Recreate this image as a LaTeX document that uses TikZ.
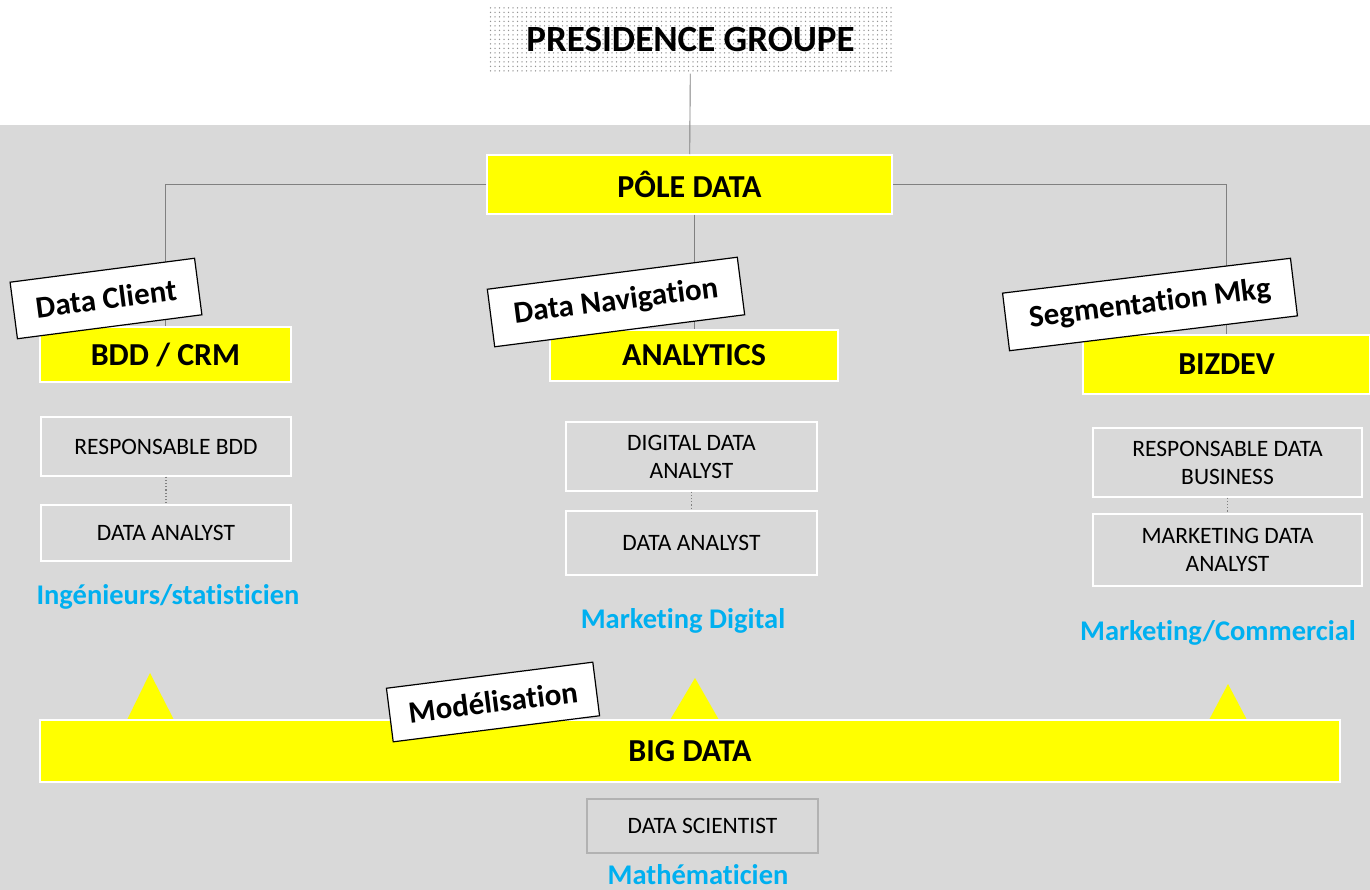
\documentclass[tikz,border=0pt]{standalone}
\usepackage{fontspec}
\setmainfont[Ligatures=NoCommon]{Carlito}
\usetikzlibrary{patterns.meta}
\definecolor{bggray}{HTML}{D9D9D9}
\definecolor{skillblue}{HTML}{00B0F0}
\definecolor{linegray}{HTML}{808080}
\definecolor{poleyellow}{HTML}{FFFF00}
\tikzset{
  pole/.style={draw=white, line width=1.5pt, fill=poleyellow, inner sep=0pt,
    font=\bfseries\fontsize{32}{34}\selectfont},
  role/.style={draw=white, line width=1.2pt, inner sep=0pt, align=center,
    font=\fontsize{23.5}{28}\selectfont},
  tag/.style={draw=black, fill=white, line width=1.2pt, inner sep=0pt,
    font=\bfseries\fontsize{31}{33}\selectfont},
  skill/.style={text=skillblue, inner sep=0pt, font=\bfseries\fontsize{28.5}{31}\selectfont},
  link/.style={draw=linegray, line width=0.9pt},
  dotlink/.style={draw=linegray, dotted, line width=1.2pt},
}
\begin{document}
\begin{tikzpicture}[x=1pt,y=-1pt]
  % frame
  \useasboundingbox (0,0) rectangle (1370,890);
  \fill[bggray] (0,125) rectangle (1370,890);
  % head
  \node[pattern={Dots[distance=4.5pt,radius=0.75pt]}, pattern color=gray!85,
    minimum width=403pt, minimum height=67pt, inner sep=0pt,
    font=\bfseries\fontsize{37}{40}\selectfont] (presidence) at (690.5,40) {PRESIDENCE GROUPE};
  \node[pole, minimum width=405pt, minimum height=59pt] (poledata) at (689.5,184.5) {PÔLE DATA};
  % poles
  \node[pole, minimum width=251pt, minimum height=55pt] (bdd) at (165.5,354.5) {BDD / CRM};
  \node[pole, minimum width=288pt, minimum height=51pt] (analytics) at (694,355.5) {ANALYTICS};
  \node[pole, minimum width=287pt, minimum height=59pt] (bizdev) at (1226.5,364.5) {BIZDEV};
  % links
  \draw[link] (presidence) -- (poledata);
  \draw[link] (poledata.west) -| (bdd.north);
  \draw[link] (poledata.south -| analytics.north) -- (analytics.north);
  \draw[link] (poledata.east) -| (bizdev.north);
  % tags
  \node[tag, rotate=7.4, minimum width=186pt, minimum height=57pt] (dataclient) at (106,298.5) {Data Client};
  \node[tag, rotate=7.3, minimum width=252pt, minimum height=58pt] (datanav) at (616,302) {Data Navigation};
  \node[tag, rotate=6.9, minimum width=290pt, minimum height=58pt] (segmkg) at (1150,304.5) {Segmentation Mkg};
  % roles
  \node[role, minimum width=250pt, minimum height=59pt] (respbdd) at (166,446.5) {RESPONSABLE BDD};
  \node[role, minimum width=250pt, minimum height=56pt] (analystbdd) at (166,533) {DATA ANALYST};
  \draw[dotlink] (respbdd) -- (analystbdd);
  \node[skill] (ingenieurs) at (168,597) {Ingénieurs/statisticien};
  \node[role, minimum width=251pt, minimum height=69pt] (digital) at (691.5,456.5) {DIGITAL DATA\\ANALYST};
  \node[role, minimum width=251pt, minimum height=64pt] (analystnav) at (691.5,543) {DATA ANALYST};
  \draw[dotlink] (digital) -- (analystnav);
  \node[skill] (mkgdigital) at (683,621) {Marketing Digital};
  \node[role, minimum width=269pt, minimum height=69pt] (respbiz) at (1227.5,462.5) {RESPONSABLE DATA\\BUSINESS};
  \node[role, minimum width=269pt, minimum height=72pt] (mkganalyst) at (1227.5,550) {MARKETING DATA\\ANALYST};
  \draw[dotlink] (respbiz) -- (mkganalyst);
  \node[skill] (mkgcom) at (1218,633) {Marketing/Commercial};
  % big data
  \fill[poleyellow] (127,720) -- (150,673) -- (174,720) -- cycle;
  \fill[poleyellow] (670,720) -- (695,678) -- (719,720) -- cycle;
  \fill[poleyellow] (1209,720) -- (1228,684) -- (1247,720) -- cycle;
  \node[pole, minimum width=1300pt, minimum height=62pt] (bigdata) at (690,751) {BIG DATA};
  \node[tag, rotate=7.2, minimum width=208pt, minimum height=54pt] (modelisation) at (493,702) {Modélisation};
  \node[role, draw=gray!60, minimum width=231pt, minimum height=54pt] (scientist) at (702.5,826) {DATA SCIENTIST};
  \node[skill] (mathematicien) at (698,875) {Mathématicien};
\end{tikzpicture}
\end{document}
